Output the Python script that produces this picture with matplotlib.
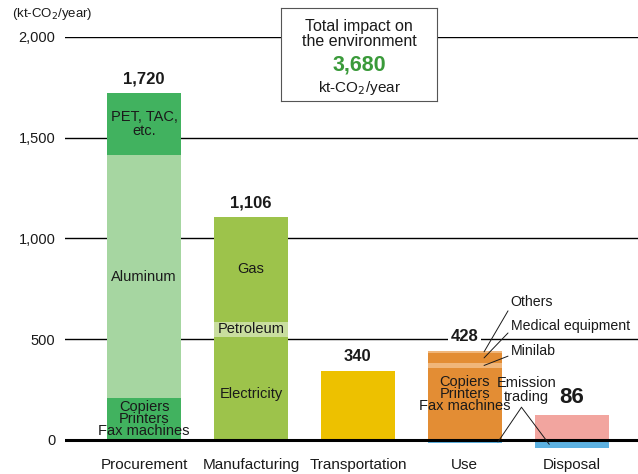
"""Life-cycle CO2 impact by stage, stacked bars with annotations."""

import matplotlib

matplotlib.use("Agg")
import matplotlib.pyplot as plt

plt.rcParams["font.family"] = ["Liberation Sans", "DejaVu Sans"]

categories = ["Procurement", "Manufacturing", "Transportation", "Use", "Disposal"]
totals = [1720, 1106, 340, 428, 86]
y_ticks = [0, 500, 1000, 1500, 2000]
y_tick_labels = ["0", "500", "1,000", "1,500", "2,000"]

procurement_parts = ["Copiers\nPrinters\nFax machines", "Aluminum", "PET, TAC,\netc."]
procurement_values = [208, 1206, 306]
manufacturing_parts = ["Electricity", "Petroleum", "Gas"]
manufacturing_values = [511, 75, 520]
transportation_values = [340]
use_parts = ["Copiers\nPrinters\nFax machines", "Minilab", "Medical equipment", "Others"]
use_values = [357, 25, 50, 10]
disposal_values = [124]
emission_trading = [0, 0, 0, -14, -38]
total_impact = "3,680"

DARK = "#1a1a1a"
stacks = [
    (procurement_values, ["#41b25f", "#a6d6a1", "#41b25f"]),
    (manufacturing_values, ["#9dc34b", "#c9de9f", "#9dc34b"]),
    (transportation_values, ["#edc100"]),
    (use_values, ["#e38d34", "#f0b67a", "#e38d34", "#f0b67a"]),
    (disposal_values, ["#f2a59f"]),
]

fig = plt.figure(figsize=(6.38, 4.74), dpi=100)
ax = fig.add_axes([65 / 638, 20 / 474, 573 / 638, 417 / 474])
ax.set_xlim(-0.74, 4.62)
ax.set_ylim(-70, 2000)
width = 0.69

for value in y_ticks[1:]:
    ax.axhline(value, color="black", linewidth=1.0, zorder=0)
ax.axhline(0, color="black", linewidth=2.2, zorder=3)

segment_bottoms = []
for index, (values, colors) in enumerate(stacks):
    bottom = 0
    bottoms = []
    for value, color in zip(values, colors):
        ax.bar(index, value, width, bottom=bottom, color=color, zorder=2)
        bottoms.append(bottom)
        bottom += value
    segment_bottoms.append(bottoms)
    if emission_trading[index]:
        ax.bar(index, emission_trading[index], width, color="#5db1e1", zorder=2)

inner = dict(ha="center", va="center", color=DARK, fontsize=10.5, zorder=4)
for name, value, bottom in zip(procurement_parts, procurement_values, segment_bottoms[0]):
    spacing = 0.85 if "Fax" in name else 1.0
    ax.text(0, bottom + value / 2, name, linespacing=spacing, **inner)
for name, value, bottom in zip(manufacturing_parts, manufacturing_values, segment_bottoms[1]):
    offset = -0.05 * value if name == "Electricity" else 0
    ax.text(1, bottom + value / 2 + offset, name, **inner)
ax.text(3, use_values[0] * 0.64, use_parts[0], linespacing=0.85, **inner)

# value labels above bars
positives = [sum(v) for v, _ in stacks]
for index, total in enumerate(totals):
    big = index == 4
    ax.annotate(f"{total:,}", (index, positives[index]), xytext=(0, 5),
                textcoords="offset points", ha="center", va="bottom",
                fontsize=16 if big else 12, fontweight="bold", color=DARK,
                bbox=dict(boxstyle="square,pad=0.15", fc="white", ec="none") if index == 3 else None,
                zorder=5)

# leader lines for the small Use segments
leader = dict(arrowstyle="-", color=DARK, linewidth=0.7)
for name, bottom, value, ty in zip(use_parts[1:], segment_bottoms[3][1:], use_values[1:],
                                   [442, 566, 685]):
    ax.annotate(name, xy=(3.18, bottom + value / 2), xytext=(3.43, ty),
                ha="left", va="center", fontsize=10.2, color=DARK,
                arrowprops=dict(shrinkA=0, shrinkB=0, relpos=(0, 0.2), **leader), zorder=6)

ax.text(3.58, 248, "Emission\ntrading", ha="center", va="center", fontsize=10.5,
        color=DARK, linespacing=1.0, zorder=6)
for index, dx in ((3, 0.31), (4, -0.21)):
    ax.annotate("", xy=(index + dx, emission_trading[index] / 2 - 3),
                xytext=(3.53, 162), arrowprops=dict(shrinkA=0, shrinkB=0, **leader), zorder=6)

# total impact box
box_ax = fig.add_axes([281 / 638, 373 / 474, 156 / 638, 93 / 474])
box_ax.set_xticks([])
box_ax.set_yticks([])
for spine in box_ax.spines.values():
    spine.set_color("#555555")
box_ax.text(0.5, 0.72, "Total impact on\nthe environment", ha="center", va="center",
            fontsize=11.5, color=DARK, linespacing=0.95)
box_ax.text(0.5, 0.385, total_impact, ha="center", va="center", fontsize=15.5,
            fontweight="bold", color="#3a9a3a")
box_ax.text(0.5, 0.14, "kt-CO$_2$/year", ha="center", va="center", fontsize=11,
            color=DARK)

ax.set_yticks(y_ticks, y_tick_labels, fontsize=10.5, color=DARK)
ax.set_xticks(range(len(categories)), categories, fontsize=11, color=DARK)
ax.tick_params(length=0)
ax.tick_params(axis="y", pad=7)
ax.tick_params(axis="x", pad=3)
for spine in ax.spines.values():
    spine.set_visible(False)
fig.text(12 / 638, 1 - 14 / 474, "(kt-CO$_2$/year)", fontsize=9.5, color=DARK,
         va="center")

fig.savefig("out.png", dpi=100)
